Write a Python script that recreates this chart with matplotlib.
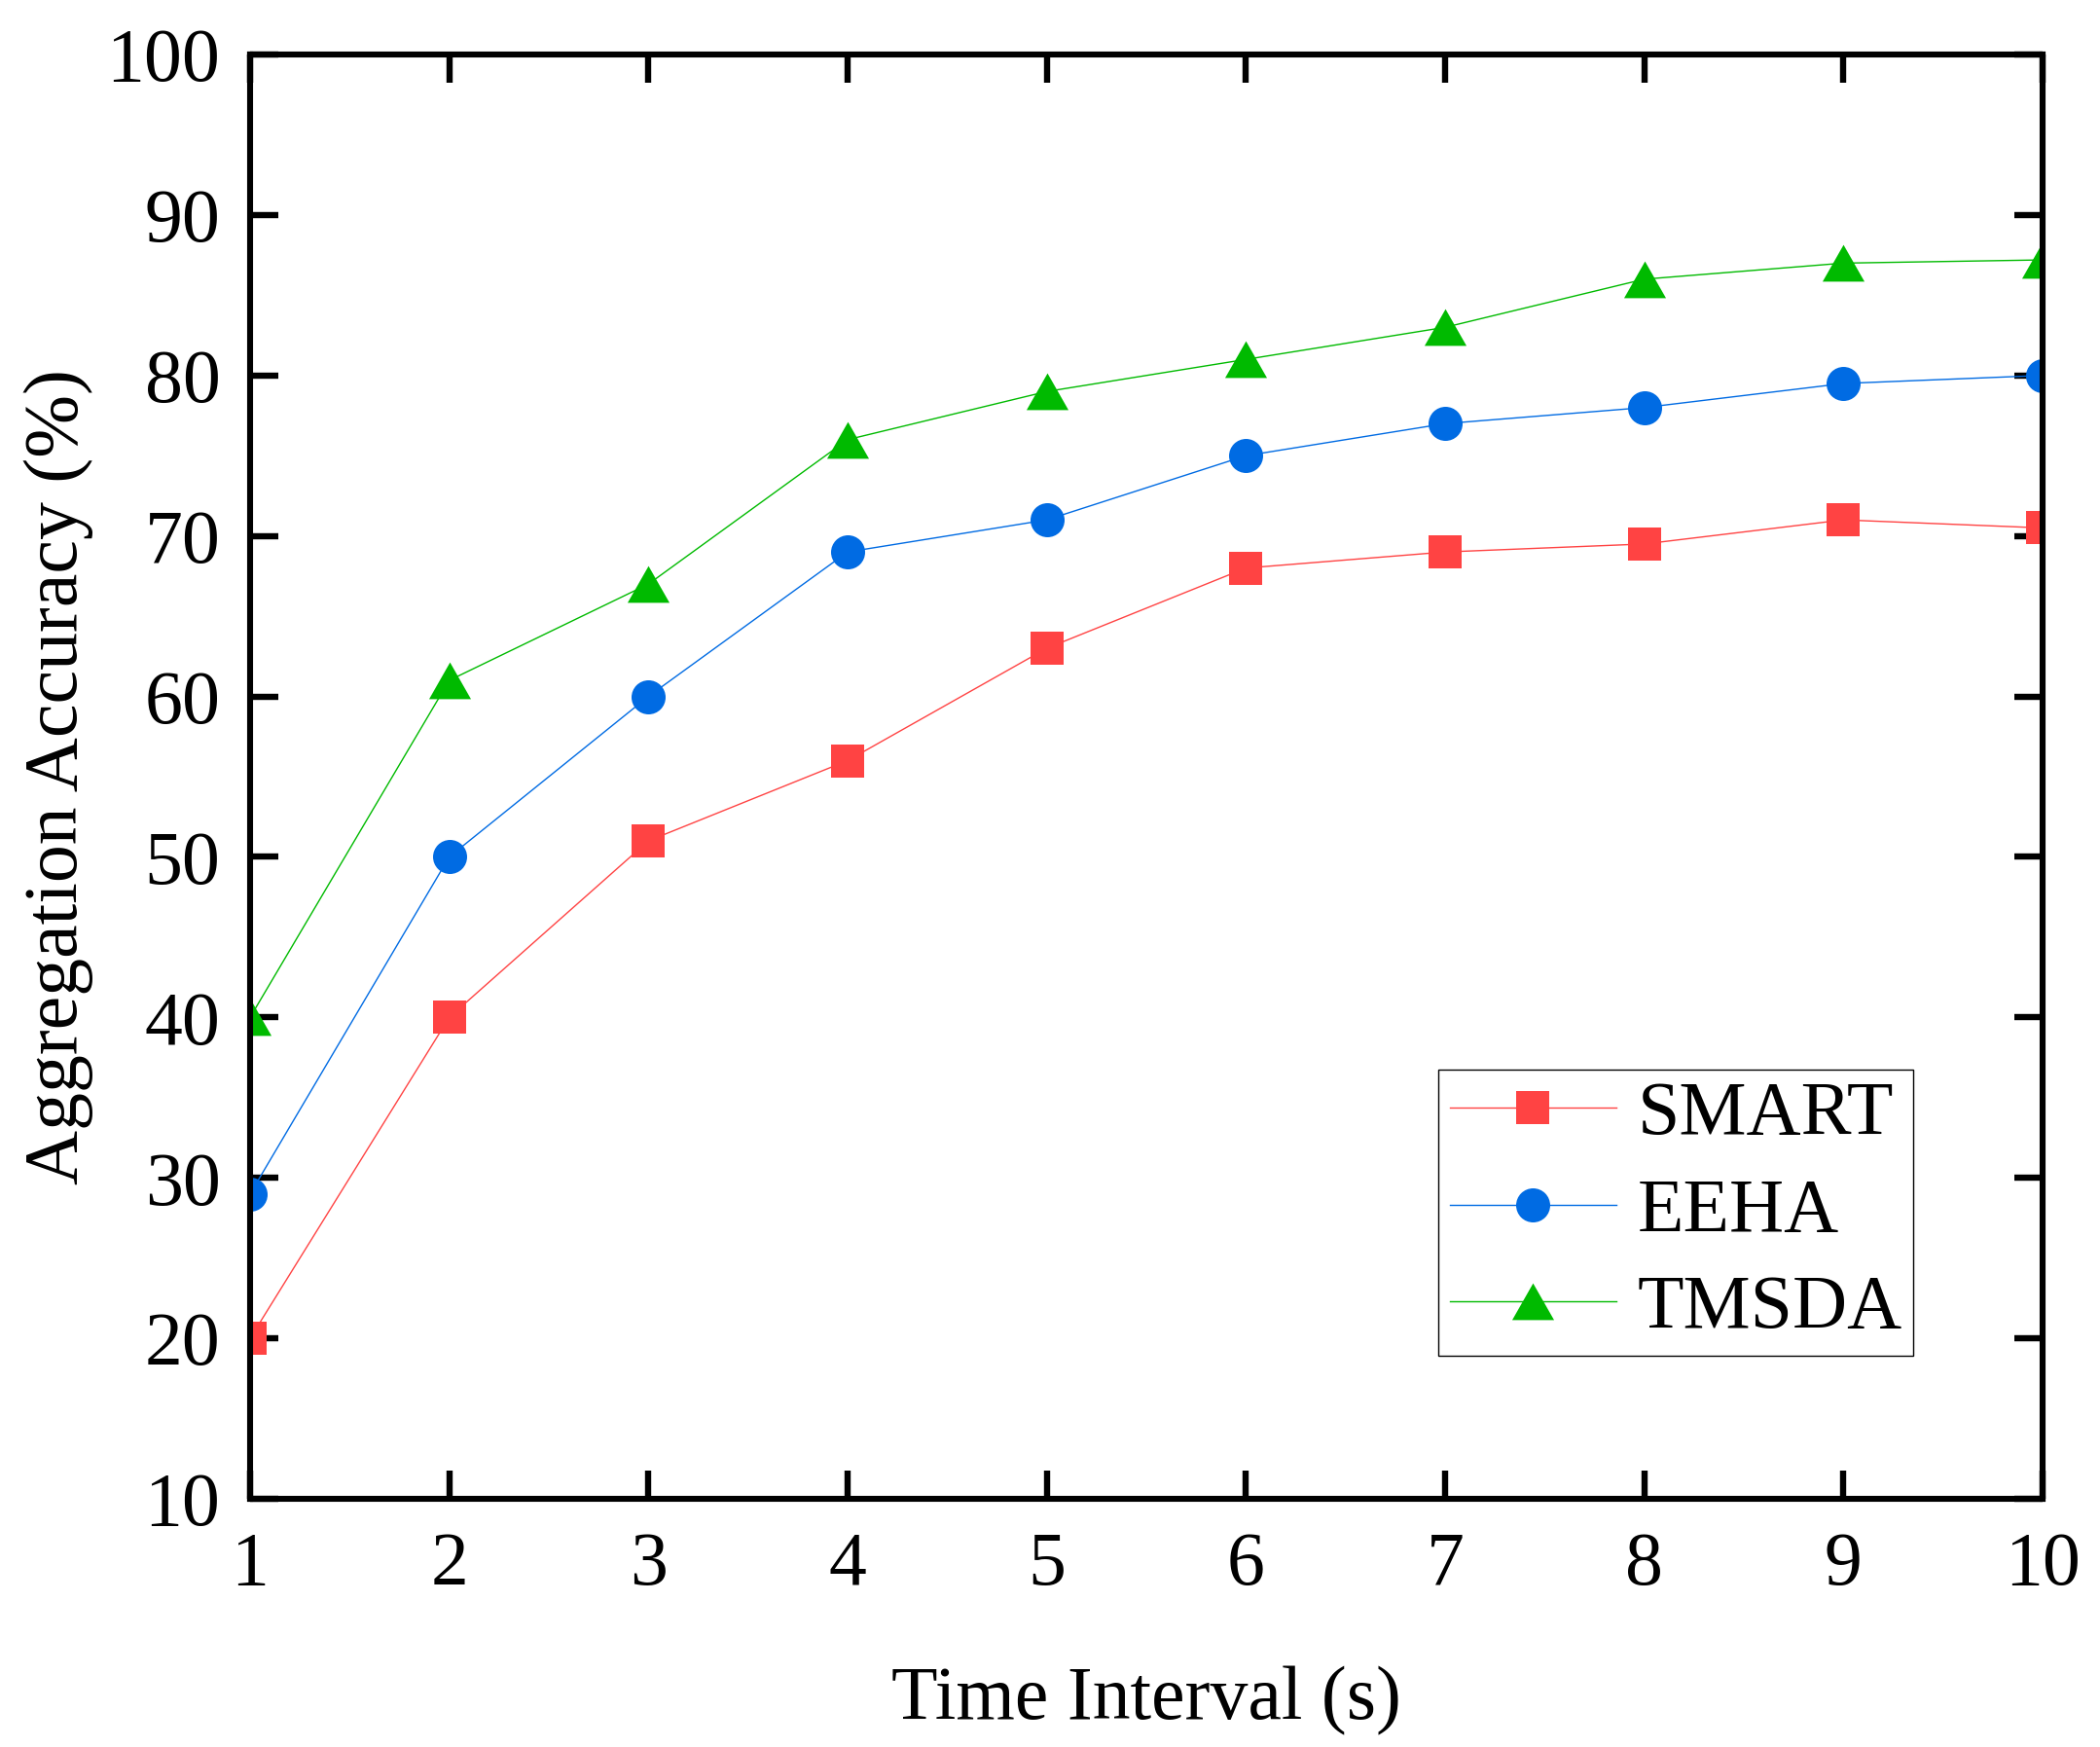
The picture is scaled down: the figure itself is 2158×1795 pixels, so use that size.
import numpy as np
import matplotlib
matplotlib.use("Agg")
import matplotlib.pyplot as plt

interval = [1, 2, 3, 4, 5, 6, 7, 8, 9, 10]
smart = [20, 40, 51, 56, 63, 68, 69, 69.5, 71, 70.5]
eeha = [29, 50, 60, 69, 71, 75, 77, 78, 79.5, 80]
tmsda = [40, 61, 67, 76, 79, 81, 83, 86, 87, 87.2]

xticks = [1, 2, 3, 4, 5, 6, 7, 8, 9, 10]
yticks = [10, 20, 30, 40, 50, 60, 70, 80, 90, 100]

plt.rcParams['font.family'] = ['Liberation Serif', 'DejaVu Serif']
plt.rcParams['font.size'] = 28

red = '#FF4343'
blue = '#006BE3'
green = '#00BA00'
tri = [(-1.14, -1), (1.14, -1), (0, 1)]

fig = plt.figure(figsize=(10.79, 8.975), dpi=200)
fig.subplots_adjust(left=257/2158, right=2099/2158, top=1-56/1795, bottom=1-1540/1795)
ax = fig.add_subplot()

ax.plot(interval, smart, color=red, lw=0.5, marker='s', ms=11.9, mew=0, label='SMART')
ax.plot(interval, eeha, color=blue, lw=0.5, marker='o', ms=12.6, mew=0, label='EEHA')
ax.plot(interval, tmsda, color=green, lw=0.5, marker=tri, ms=15.5, mew=0, label='TMSDA')

ax.set_xlim(1, 10)
ax.set_ylim(10, 100)
ax.set_xticks(xticks)
ax.set_yticks(yticks)
ax.tick_params(direction='in', length=10.4, width=2.3, top=True, right=True,
               labelsize=28)
ax.tick_params(axis='x', pad=12)
ax.tick_params(axis='y', pad=11)
for s in ax.spines.values():
    s.set_linewidth(2.2)

ax.set_xlabel('Time Interval (s)', fontsize=28, labelpad=24)
ax.set_ylabel('Aggregation Accuracy (%)', fontsize=28, labelpad=5)

leg = ax.legend(loc='lower right', bbox_to_anchor=(0.928, 0.099), fontsize=28,
                frameon=True, fancybox=False, shadow=False, framealpha=1,
                edgecolor='black', handlelength=2.2, handletextpad=0.28,
                labelspacing=0.36, borderpad=0.15, borderaxespad=0)
leg.get_frame().set_linewidth(0.5)

fig.savefig('out.png', dpi=200)
